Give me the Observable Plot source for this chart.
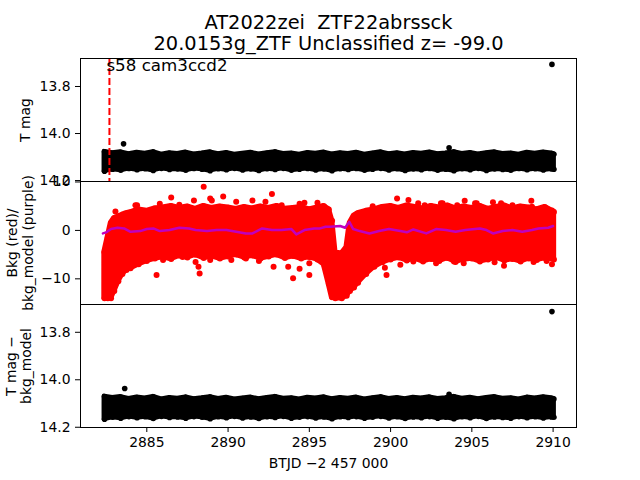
<!DOCTYPE html>
<html><head><meta charset="utf-8">
<script src="https://cdn.jsdelivr.net/npm/d3@7"></script>
<script src="https://cdn.jsdelivr.net/npm/@observablehq/plot@0.6"></script>
<style>
body{margin:0;background:#fff}
#c{position:relative;width:640px;height:480px;background:#fff;font-family:"DejaVu Sans"}
#c svg{position:absolute;left:0;overflow:visible}
</style>
</head><body><div id="c"></div>
<script>
// ---- text ----
const titleLine1 = "AT2022zei\u00a0\u00a0ZTF22abrssck";
const titleLine2 = "20.0153g_ZTF Unclassified z= -99.0";
const sectorLabel = "s58 cam3ccd2";
const sectorStart = 2882.70;
const yLabel1 = "T mag";
const yLabel2 = "Bkg (red)/\nbkg_model (purple)";
const yLabel3 = "T mag \u2212\nbkg_model";
const xLabel = "BTJD \u22122 457 000";
const xTicks = [2885, 2890, 2895, 2900, 2905, 2910];
const magTicks = [13.8, 14.0, 14.2];
const bkgTicks = [-10, 0, 10];

// ---- black light-curve band (dot-centre envelope) ----
const bandT = [2882.4,2882.9,2883.4,2883.9,2884.4,2884.9,2885.4,2885.9,2886.4,2886.9,
  2887.4,2887.9,2888.4,2888.9,2889.4,2889.9,2890.4,2890.9,2891.4,2891.9,
  2892.4,2892.9,2893.4,2893.9,2894.4,2894.9,2895.4,2895.9,2896.4,2896.9,
  2897.4,2897.9,2898.4,2898.9,2899.4,2899.9,2900.4,2900.9,2901.4,2901.9,
  2902.4,2902.9,2903.4,2903.9,2904.4,2904.9,2905.4,2905.9,2906.4,2906.9,
  2907.4,2907.9,2908.4,2908.9,2909.4,2909.9,2910.05];
const tmagHi = [14.078,14.084,14.080,14.088,14.082,14.086,14.079,14.090,14.084,14.087,
  14.081,14.089,14.085,14.080,14.088,14.083,14.090,14.086,14.082,14.089,
  14.084,14.079,14.087,14.085,14.090,14.083,14.086,14.081,14.089,14.084,
  14.087,14.082,14.090,14.085,14.080,14.088,14.084,14.089,14.083,14.086,
  14.081,14.088,14.085,14.079,14.087,14.083,14.089,14.084,14.080,14.087,
  14.085,14.090,14.082,14.086,14.081,14.085,14.088];
const tmagLo = [14.160,14.152,14.156,14.149,14.154,14.150,14.157,14.148,14.153,14.151,
  14.156,14.149,14.152,14.158,14.150,14.154,14.148,14.155,14.151,14.157,
  14.150,14.153,14.148,14.156,14.152,14.149,14.155,14.151,14.158,14.150,
  14.153,14.149,14.156,14.152,14.148,14.155,14.150,14.157,14.151,14.154,
  14.149,14.156,14.152,14.158,14.150,14.154,14.148,14.157,14.151,14.153,
  14.156,14.149,14.154,14.150,14.155,14.151,14.152];
const dmagHi = [14.071,14.077,14.073,14.081,14.075,14.079,14.072,14.083,14.077,14.080,
  14.074,14.082,14.078,14.073,14.081,14.076,14.083,14.079,14.075,14.082,
  14.077,14.072,14.080,14.078,14.083,14.076,14.079,14.074,14.082,14.077,
  14.080,14.075,14.083,14.078,14.073,14.081,14.077,14.082,14.076,14.079,
  14.074,14.081,14.078,14.072,14.080,14.076,14.082,14.077,14.073,14.080,
  14.078,14.083,14.075,14.079,14.074,14.078,14.081];
const dmagLo = [14.166,14.158,14.162,14.155,14.160,14.156,14.163,14.154,14.159,14.157,
  14.162,14.155,14.158,14.164,14.156,14.160,14.154,14.161,14.157,14.163,
  14.156,14.159,14.154,14.162,14.158,14.155,14.161,14.157,14.164,14.156,
  14.159,14.155,14.162,14.158,14.154,14.161,14.156,14.163,14.157,14.160,
  14.155,14.162,14.158,14.164,14.156,14.160,14.154,14.163,14.157,14.159,
  14.162,14.155,14.160,14.156,14.161,14.157,14.158];
const out1T = [2883.57, 2903.60, 2909.93];
const out1M = [14.044, 14.061, 13.706];
const out3T = [2883.64, 2903.60, 2909.93];
const out3M = [14.037, 14.061, 13.713];

// ---- red background band ----
const bkgT = [2882.4,2882.6,2882.8,2883.0,2883.25,2883.5,2883.75,2884.0,2884.5,2885.0,
  2885.5,2886.0,2886.5,2887.0,2887.5,2888.0,2888.5,2889.0,2889.5,2890.0,
  2890.5,2891.0,2891.5,2892.0,2892.5,2893.0,2893.5,2894.0,2894.5,2895.0,
  2895.5,2895.9,2896.2,2896.4,2896.6,2897.0,2897.3,2897.5,2897.75,2898.0,
  2898.5,2899.0,2899.5,2900.0,2900.5,2901.0,2901.5,2902.0,2902.5,2903.0,
  2903.5,2904.0,2904.5,2905.0,2905.5,2906.0,2906.5,2907.0,2907.5,2908.0,
  2908.5,2909.0,2909.5,2910.05];
const bkgHi = [-4.5,-1.5,1.5,2.5,2.8,3.2,3.5,3.7,4.3,4.0,
  4.5,4.7,5.0,4.6,4.9,4.4,5.0,4.6,4.9,4.7,
  4.4,4.8,4.5,4.9,4.6,5.0,4.4,4.6,4.8,4.3,
  4.7,5.0,4.3,2.0,-4.6,-4.8,-3.5,1.5,3.0,3.5,
  4.0,4.3,4.8,5.0,4.6,5.1,4.8,4.5,5.0,4.7,
  5.1,4.5,4.9,4.6,5.0,4.4,4.8,5.1,4.5,4.9,
  4.7,4.3,4.8,3.8];
const bkgLo = [-14.0,-14.0,-14.0,-12.5,-10.5,-9.0,-8.2,-7.8,-7.0,-6.3,
  -5.8,-5.5,-5.9,-5.2,-5.6,-5.0,-5.7,-5.3,-5.8,-5.4,
  -5.0,-5.6,-5.2,-5.8,-5.4,-5.0,-5.7,-5.3,-5.8,-5.5,
  -6.0,-7.0,-11.0,-13.8,-14.0,-14.0,-13.5,-12.5,-11.8,-10.8,
  -9.0,-7.5,-6.6,-6.0,-5.6,-6.2,-5.8,-6.4,-5.9,-6.3,
  -5.7,-6.5,-6.0,-5.8,-6.4,-6.0,-5.6,-6.2,-5.9,-6.4,
  -5.8,-6.1,-5.7,-6.0];
// scattered dots just outside the dense band
const bkgEdgeT = [2884.3,2885.8,2887.0,2887.9,2888.9,2889.0,2890.5,2891.5,2892.3,2893.3,
  2894.4,2894.7,2895.5,2898.9,2900.4,2901.7,2902.1,2903.1,2904.1,2905.2,
  2906.3,2906.8,2907.5,2908.7,2909.7,
  2886.0,2887.2,2888.0,2888.9,2890.2,2891.1,2891.9,2893.7,2894.4,2895.0,
  2900.6,2901.4,2902.2,2902.8,2903.9,2904.5,2905.5,2906.4,2908.0,2908.8,2909.6];
const bkgEdgeV = [5.2,5.5,5.3,6.2,6.6,6.2,5.9,6.2,5.9,5.2,
  5.5,5.7,5.7,5.0,6.6,5.6,5.2,5.6,5.2,5.6,
  5.8,5.6,5.2,4.9,4.3,
  -6.1,-5.5,-6.5,-6.1,-6.1,-5.8,-6.3,-7.5,-7.9,-6.8,
  -7.1,-6.4,-5.8,-6.8,-6.4,-6.8,-6.1,-6.6,-6.1,-6.5,-6.3];
const bkgOutT = [2883.07,2884.4,2886.5,2888.5,2889.7,2892.7,2885.6,2888.18,2888.25,2892.8,
  2894.0,2895.0,2899.75,2899.65,2901.1,2903.2,2904.56,2905.3,2908.66,2909.93,2906.98,2909.93];
const bkgOutV = [3.9,5.2,6.8,9.0,7.0,7.5,-9.2,-7.5,-8.9,-7.5,
  -9.9,-9.2,-9.2,-7.7,6.3,5.6,6.1,5.6,6.1,4.1,-7.3,-7.0];

// ---- purple bkg_model ----
const modelT = [2882.3,2882.5,2882.8,2883.2,2883.6,2884.0,2884.6,2885.0,2885.4,2885.8,
  2886.4,2887.0,2887.6,2888.0,2888.7,2889.3,2889.9,2890.5,2891.1,2891.5,
  2892.1,2892.7,2893.3,2893.9,2894.2,2894.7,2895.3,2895.66,2896.0,2896.3,
  2896.9,2897.2,2897.46,2897.7,2898.1,2898.7,2899.3,2899.9,2900.6,2901.0,
  2901.4,2902.2,2902.8,2903.4,2904.0,2904.6,2905.5,2905.9,2906.3,2906.9,
  2907.5,2908.1,2908.7,2909.1,2909.7,2910.0];
const modelV = [-0.62,-0.4,0.28,0.55,0.41,-0.28,-0.14,0.28,0.41,-0.14,
  0.07,0.55,0.41,0.07,-0.14,0.07,0.07,-0.28,-0.62,-0.62,
  0.41,0.07,0.07,0.28,-0.83,0.07,0.41,0.41,0.76,0.76,
  0.9,0.55,1.79,0.28,-0.14,-0.62,-0.14,0.28,-0.14,-0.4,
  0.2,-0.62,0.28,0.07,-0.28,0.07,0.41,0.07,-0.62,-0.14,
  0.07,-0.28,0.07,0.41,0.55,0.9];

// ---- build tables ----
const band1 = bandT.map((t,i)=>({t, hi: tmagHi[i], lo: tmagLo[i]}));
const band3 = bandT.map((t,i)=>({t, hi: dmagHi[i], lo: dmagLo[i]}));
const edges = b => b.flatMap(d=>[{t:d.t, v:d.hi},{t:d.t, v:d.lo}]);
const out1 = out1T.map((t,i)=>({t, v: out1M[i]}));
const out3 = out3T.map((t,i)=>({t, v: out3M[i]}));
const bkg = bkgT.map((t,i)=>({t, hi: bkgHi[i], lo: bkgLo[i]}));
const bkgEdge = bkgEdgeT.map((t,i)=>({t, v: bkgEdgeV[i]}));
const bkgOut = bkgOutT.map((t,i)=>({t, v: bkgOutV[i]}));
const model = modelT.map((t,i)=>({t, v: modelV[i]}));

const xDomain = [2880.92, 2911.44];
const FONT = "DejaVu Sans";
const style = {fontFamily: FONT, fontSize: "13.9px", color: "black", background: "transparent", overflow: "visible"};
const common = {width: 640, marginLeft: 80, marginRight: 64, style};
const yAxis = (ticks, fmt) => Plot.axisY({ticks, tickFormat: fmt, tickSize: 5, tickPadding: 5, label: null, fill: "black", stroke: "black"});
const yLabel = (txt, dx) => Plot.text([txt], {frameAnchor: "left", textAnchor: "middle", rotate: -90, dx, lineAnchor: "middle", lineHeight: 1.1});

const p1 = Plot.plot({
  ...common, height: 181, marginTop: 58, marginBottom: 0,
  x: {domain: xDomain, axis: null},
  y: {domain: [13.681, 14.204], reverse: true, axis: null},
  marks: [
    Plot.areaY(band1, {x: "t", y1: "hi", y2: "lo", fill: "black", stroke: "black", strokeWidth: 5, strokeLinejoin: "round"}),
    Plot.dot(edges(band1), {x: "t", y: "v", r: 2.8, fill: "black"}),
    Plot.dot(out1, {x: "t", y: "v", r: 2.8, fill: "black"}),
    Plot.ruleX([sectorStart], {stroke: "red", strokeWidth: 2, strokeDasharray: "7,3"}),
    Plot.text([sectorStart], {x: d=>d, text: () => sectorLabel, frameAnchor: "top", textAnchor: "start", lineAnchor: "top", dx: -3, dy: 1, fontSize: 16.7}),
    yAxis(magTicks, d3.format(".1f")),
    Plot.frame({stroke: "black"}),
    Plot.text([titleLine1], {frameAnchor: "top", lineAnchor: "bottom", dy: -30, fontSize: 19.4}),
    Plot.text([titleLine2], {frameAnchor: "top", lineAnchor: "bottom", dy: -9, fontSize: 19.4}),
    yLabel(yLabel1, -55)
  ]
});

const p2 = Plot.plot({
  ...common, height: 123, marginTop: 0, marginBottom: 0,
  x: {domain: xDomain, axis: null},
  y: {domain: [-15.3, 10.1], axis: null},
  marks: [
    Plot.areaY(bkg, {x: "t", y1: "lo", y2: "hi", fill: "red", stroke: "red", strokeWidth: 5.5, strokeLinejoin: "round"}),
    Plot.dot(edges(bkg), {x: "t", y: "v", r: 3, fill: "red"}),
    Plot.dot(bkgEdge, {x: "t", y: "v", r: 3, fill: "red"}),
    Plot.dot(bkgOut, {x: "t", y: "v", r: 3, fill: "red"}),
    Plot.line(model, {x: "t", y: "v", stroke: "#bf00bf", strokeWidth: 2.5}),
    yAxis(bkgTicks, d3.format("d")),
    Plot.frame({stroke: "black"}),
    yLabel(yLabel2, -60.5)
  ]
});

const p3 = Plot.plot({
  ...common, height: 176, marginTop: 0, marginBottom: 53,
  x: {domain: xDomain},
  y: {domain: [13.683, 14.201], reverse: true, axis: null},
  marks: [
    Plot.areaY(band3, {x: "t", y1: "hi", y2: "lo", fill: "black", stroke: "black", strokeWidth: 5, strokeLinejoin: "round"}),
    Plot.dot(edges(band3), {x: "t", y: "v", r: 2.8, fill: "black"}),
    Plot.dot(out3, {x: "t", y: "v", r: 2.8, fill: "black"}),
    yAxis(magTicks, d3.format(".1f")),
    Plot.axisX({ticks: xTicks, tickFormat: d3.format("d"), tickSize: 5, tickPadding: 5, label: null, fill: "black", stroke: "black"}),
    Plot.frame({stroke: "black"}),
    yLabel(yLabel3, -62),
    Plot.text([xLabel], {frameAnchor: "bottom", lineAnchor: "middle", dy: 36})
  ]
});

const c = document.getElementById("c");
[[p1, 0], [p2, 181], [p3, 304]].forEach(([p, top]) => { p.style.top = top + "px"; c.appendChild(p); });
</script></body></html>
